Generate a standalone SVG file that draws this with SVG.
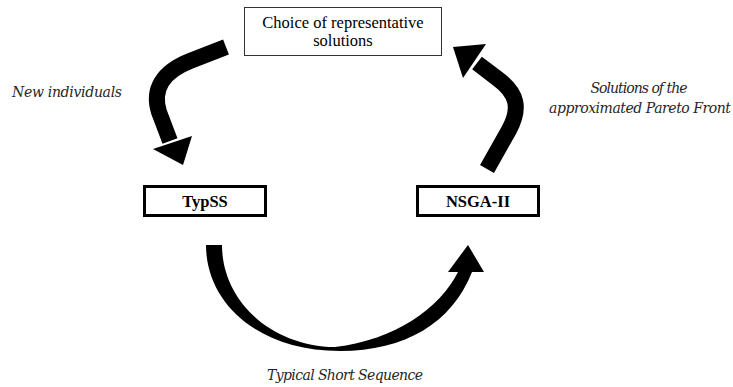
<svg xmlns="http://www.w3.org/2000/svg" width="733" height="387" viewBox="0 0 733 387">
<style>
.lbl{font-family:"DejaVu Serif","Liberation Serif",serif;font-style:italic;font-size:14px;fill:#262626}
.box{fill:#fff;stroke:#000;stroke-width:3}
.bt{font-family:"Liberation Serif","Times New Roman",serif;font-weight:bold;font-size:16.5px;fill:#000;text-anchor:middle}
.tt{font-family:"Liberation Serif","Times New Roman",serif;font-size:16.5px;fill:#000;text-anchor:middle}
.shaft{fill:none;stroke:#000;stroke-width:16;stroke-linecap:butt;stroke-linejoin:round}
</style>
<rect width="733" height="387" fill="#fff"/>
<g id="node-choice">
<rect x="244.5" y="7.5" width="197" height="48" fill="#fff" stroke="#333" stroke-width="1"/>
<text class="tt" x="343" y="28">Choice of representative</text>
<text class="tt" x="343" y="46">solutions</text>
</g>
<g id="node-typss">
<rect class="box" x="144.5" y="186.5" width="121" height="29"/>
<text class="bt" x="205" y="207">TypSS</text>
</g>
<g id="node-nsga">
<rect class="box" x="417.5" y="186.5" width="121" height="29"/>
<text class="bt" x="478" y="207">NSGA-II</text>
</g>
<g id="connectors">
<path class="shaft" d="M226,47 L190,61 C162,72 152,90 159,112 L170,141"/>
<polygon points="153,149 192,136 183,165" fill="#000"/>
<path class="shaft" d="M487,169 L509,130 C521,108 517,93 498,79 L477,63"/>
<polygon points="453,47 486,44 463,78" fill="#000"/>
<path d="M206,245 C206,303 258,351 340,351 C405,351 452,323 472,272 L458,272 C440,308 395,340 335,347 C270,346 222,300 222,245 Z" fill="#000"/>
<polygon points="448,272 484,272 468,245" fill="#000"/>
</g>
<g id="labels">
<text class="lbl" x="12" y="97" textLength="110">New individuals</text>
<text class="lbl" x="639" y="93" text-anchor="middle" textLength="97">Solutions of the</text>
<text class="lbl" x="640" y="113" text-anchor="middle" textLength="182">approximated Pareto Front</text>
<text class="lbl" x="345" y="380" text-anchor="middle" textLength="156">Typical Short Sequence</text>
</g>
</svg>
